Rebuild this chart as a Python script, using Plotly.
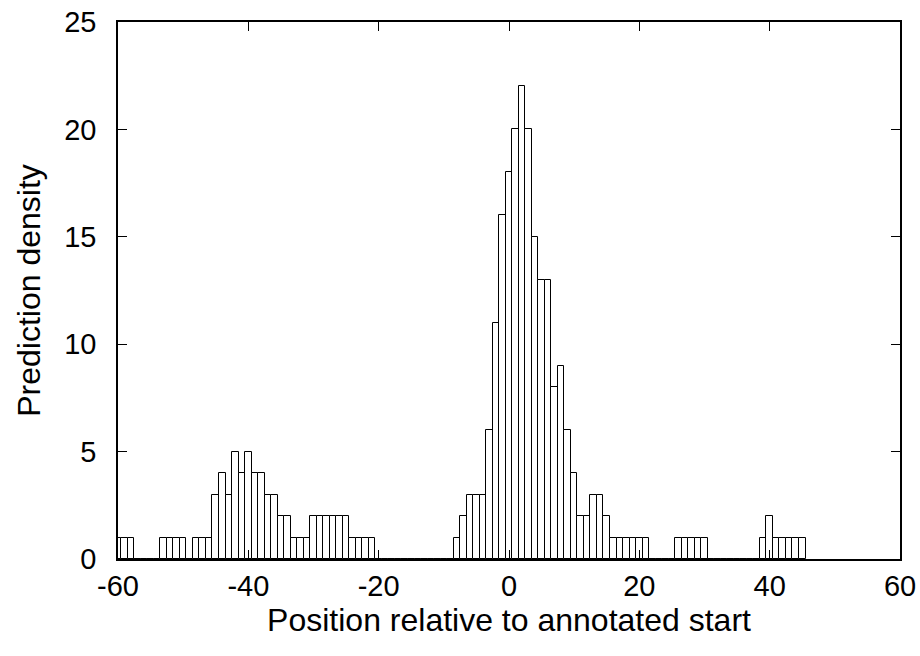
import plotly.graph_objects as go

# Histogram bins (integer offsets) and counts per bin
positions = list(range(-60, 46))
counts = [
    1, 1, 1, 0, 0, 0, 0, 1, 1, 1,      # -60 .. -51
    1, 0, 1, 1, 1, 3, 4, 3, 5, 4,      # -50 .. -41
    5, 4, 4, 3, 3, 2, 2, 1, 1, 1,      # -40 .. -31
    2, 2, 2, 2, 2, 2, 1, 1, 1, 1,      # -30 .. -21
    0, 0, 0, 0, 0, 0, 0, 0, 0, 0,      # -20 .. -11
    0, 0, 1, 2, 3, 3, 3, 6, 11, 16,    # -10 .. -1
    18, 20, 22, 20, 15, 13, 13, 8, 9, 6,  # 0 .. 9
    4, 2, 2, 3, 3, 2, 1, 1, 1, 1,      # 10 .. 19
    1, 1, 0, 0, 0, 0, 1, 1, 1, 1,      # 20 .. 29
    1, 0, 0, 0, 0, 0, 0, 0, 0, 1,      # 30 .. 39
    2, 1, 1, 1, 1, 1,                  # 40 .. 45
]

x_ticks = [-60, -40, -20, 0, 20, 40, 60]
x_tick_labels = ["-60", "-40", "-20", "0", "20", "40", "60"]
y_ticks = [0, 5, 10, 15, 20, 25]
y_tick_labels = ["0", "5", "10", "15", "20", "25"]

FONT = "Liberation Sans, Arial, Helvetica, sans-serif"

fig = go.Figure(
    go.Bar(
        x=positions,
        y=counts,
        width=1,
        marker=dict(color="white", line=dict(color="black", width=1)),
        showlegend=False,
    )
)

axis_common = dict(
    showline=True,
    linecolor="black",
    linewidth=1.5,
    mirror="ticks",
    ticks="inside",
    ticklen=9,
    tickwidth=1,
    tickcolor="black",
    showgrid=False,
    zeroline=False,
    automargin=False,
    tickfont=dict(family=FONT, size=29, color="black"),
)

fig.update_xaxes(
    range=[-60, 60],
    tickvals=x_ticks,
    ticktext=x_tick_labels,
    ticklabelstandoff=0,
    title=dict(text="Position relative to annotated start",
               font=dict(family=FONT, size=32, color="black"), standoff=3),
    **axis_common,
)
fig.update_yaxes(
    range=[0, 25],
    tickvals=y_ticks,
    ticktext=y_tick_labels,
    ticklabelstandoff=14,
    title=dict(text="Prediction density",
               font=dict(family=FONT, size=32, color="black"), standoff=14),
    **axis_common,
)

fig.update_layout(
    width=920,
    height=656,
    margin=dict(l=118, r=20, t=22, b=97),
    paper_bgcolor="white",
    plot_bgcolor="white",
    bargap=0,
)

fig.write_html("out.html")
